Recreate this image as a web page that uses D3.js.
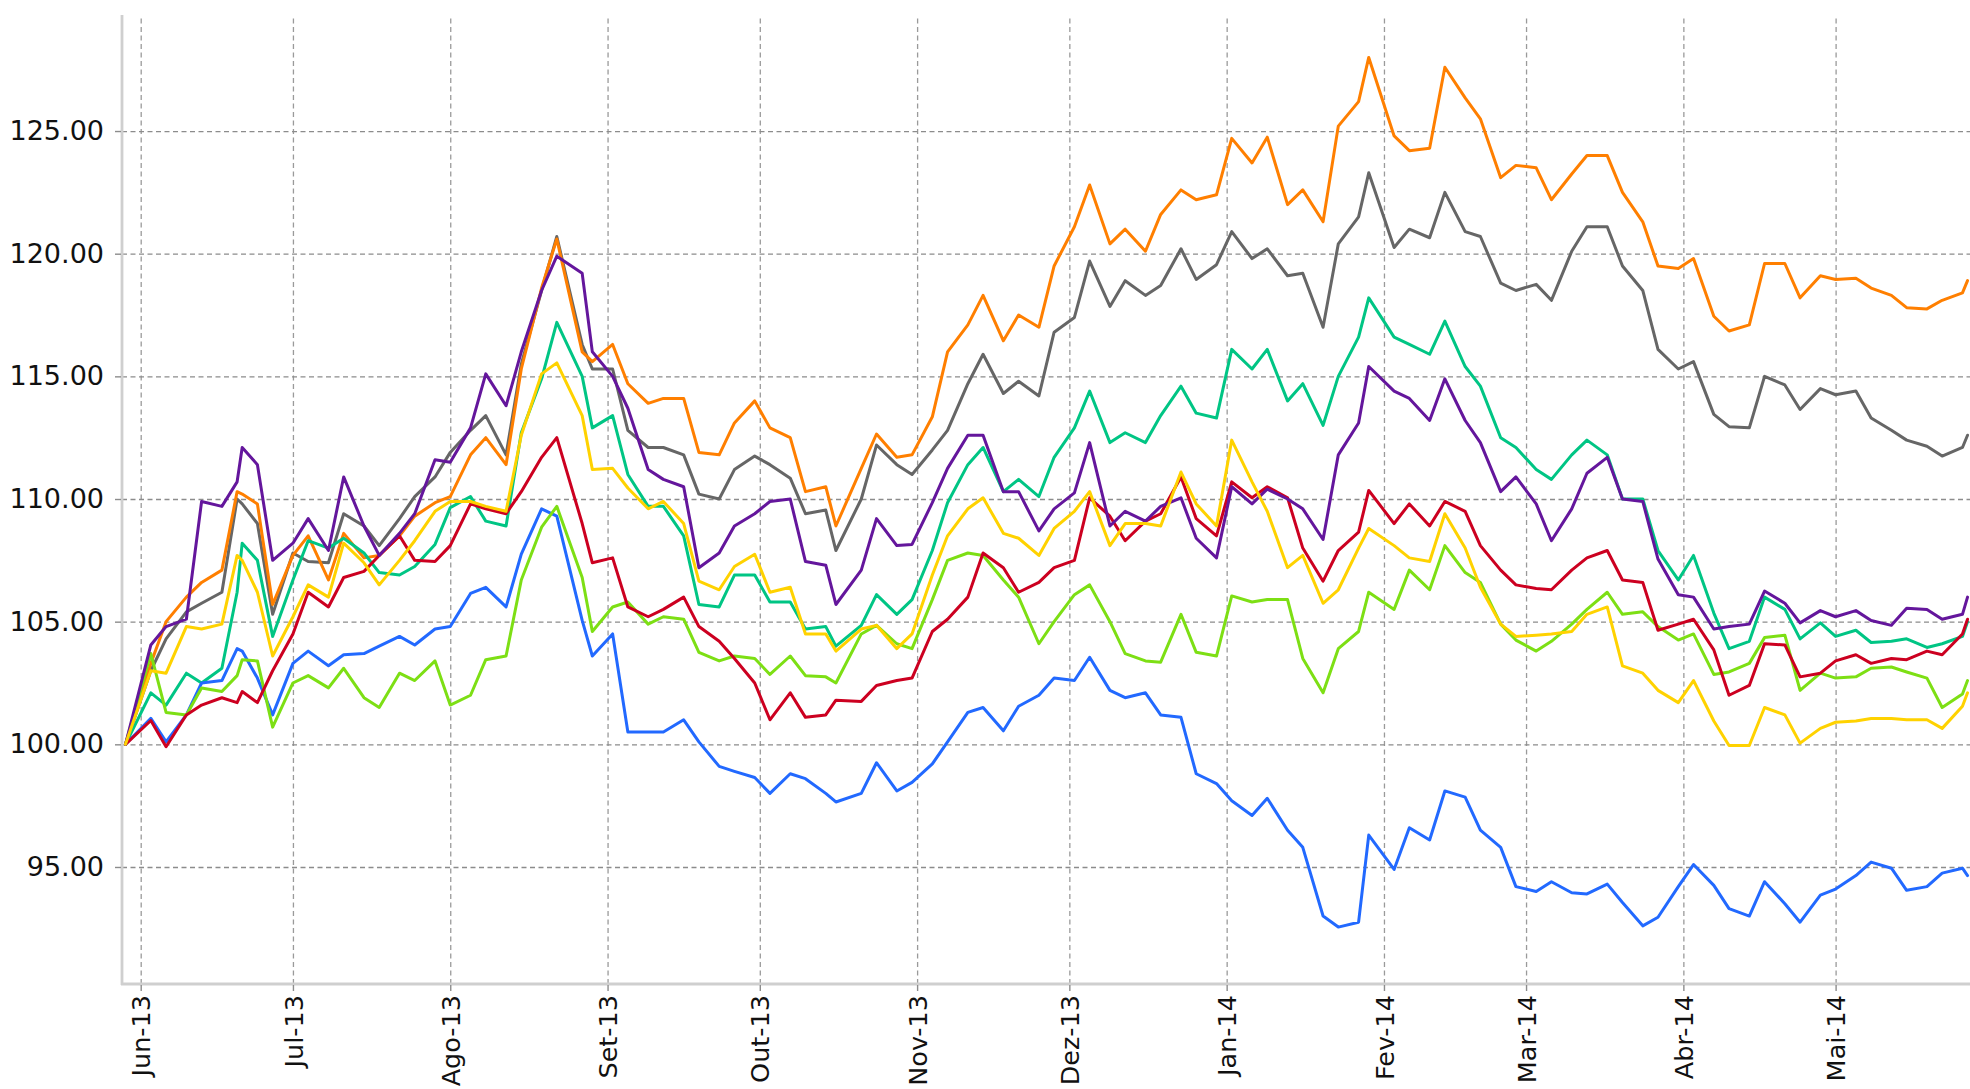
<!DOCTYPE html>
<html><head><meta charset="utf-8">
<script src="https://cdn.jsdelivr.net/npm/d3@7"></script>
<style>
body{margin:0;background:#fff}
svg{display:block;background:#fff}
text{font-family:"DejaVu Sans",sans-serif;fill:#111}
</style>
</head><body>
<svg id="chart" width="1970" height="1089"></svg>
<script>
const dates = [
"2013-05-29","2013-06-03","2013-06-06","2013-06-10","2013-06-13","2013-06-17","2013-06-20","2013-06-21","2013-06-24","2013-06-27",
"2013-07-01","2013-07-04","2013-07-08","2013-07-11","2013-07-15","2013-07-18","2013-07-22","2013-07-25","2013-07-29","2013-08-01",
"2013-08-05","2013-08-08","2013-08-12","2013-08-15","2013-08-19","2013-08-22","2013-08-27","2013-08-29","2013-09-02","2013-09-05",
"2013-09-09","2013-09-12","2013-09-16","2013-09-19","2013-09-23","2013-09-26","2013-09-30","2013-10-03","2013-10-07","2013-10-10",
"2013-10-14","2013-10-16","2013-10-21","2013-10-24","2013-10-28","2013-10-31","2013-11-04","2013-11-07","2013-11-11","2013-11-14",
"2013-11-18","2013-11-21","2013-11-25","2013-11-28","2013-12-02","2013-12-05","2013-12-09","2013-12-12","2013-12-16","2013-12-19",
"2013-12-23","2013-12-26","2013-12-30","2014-01-02","2014-01-06","2014-01-09","2014-01-13","2014-01-16","2014-01-20","2014-01-23",
"2014-01-27","2014-01-29","2014-02-03","2014-02-06","2014-02-10","2014-02-13","2014-02-17","2014-02-20","2014-02-24","2014-02-27",
"2014-03-03","2014-03-06","2014-03-10","2014-03-13","2014-03-17","2014-03-20","2014-03-24","2014-03-27","2014-03-31","2014-04-03",
"2014-04-07","2014-04-10","2014-04-14","2014-04-17","2014-04-21","2014-04-24","2014-04-28","2014-05-01","2014-05-05","2014-05-08",
"2014-05-12","2014-05-15","2014-05-19","2014-05-22","2014-05-26","2014-05-27"];

const orangeValues = [
100,103.3,105.0,106.0,106.6,107.1,110.3,110.2,109.8,105.7,
107.7,108.5,106.7,108.6,107.6,107.7,108.5,109.3,109.85,110.1,
111.8,112.5,111.4,115.3,118.6,120.6,116.0,115.6,116.3,114.7,
113.9,114.1,114.1,111.9,111.8,113.1,114.0,112.9,112.5,110.3,
110.5,108.9,111.25,112.65,111.7,111.8,113.35,116.0,117.1,118.3,
116.45,117.5,117.0,119.5,121.1,122.8,120.4,121.0,120.1,121.6,
122.6,122.2,122.4,124.7,123.7,124.75,122.0,122.6,121.3,125.2,
126.2,128.0,124.8,124.2,124.3,127.6,126.35,125.5,123.1,123.6,
123.5,122.2,123.25,124.0,124.0,122.5,121.3,119.5,119.4,119.8,
117.45,116.85,117.1,119.6,119.6,118.2,119.1,118.95,119.0,118.6,
118.3,117.8,117.75,118.1,118.4,118.9];

const grayValues = [
100,103.0,104.3,105.4,105.75,106.2,110.0,109.8,109.0,105.3,
107.8,107.45,107.4,109.4,108.9,108.1,109.2,110.1,110.9,111.9,
112.8,113.4,111.8,115.5,118.5,120.7,116.3,115.3,115.3,112.8,
112.1,112.1,111.8,110.2,110.0,111.2,111.75,111.4,110.85,109.4,
109.55,107.9,110.0,112.2,111.4,111.0,112.0,112.8,114.7,115.9,
114.3,114.8,114.2,116.8,117.4,119.7,117.85,118.9,118.3,118.7,
120.2,118.95,119.55,120.9,119.8,120.2,119.1,119.2,117.0,120.4,
121.5,123.3,120.25,121.0,120.65,122.5,120.9,120.7,118.8,118.5,
118.75,118.1,120.1,121.1,121.1,119.5,118.5,116.1,115.3,115.6,
113.45,112.95,112.9,115.0,114.65,113.65,114.5,114.25,114.4,113.3,
112.8,112.4,112.15,111.75,112.1,112.6];

const greenValues = [
100,102.1,101.6,102.9,102.5,103.1,106.2,108.2,107.5,104.4,
106.7,108.3,108.0,108.4,107.8,107.0,106.9,107.25,108.15,109.65,
110.1,109.1,108.9,112.7,114.9,117.2,115.0,112.9,113.4,111.0,
109.7,109.7,108.5,105.7,105.6,106.9,106.9,105.8,105.8,104.7,
104.8,104.0,104.85,106.1,105.3,105.9,107.9,109.85,111.4,112.1,
110.3,110.8,110.1,111.7,112.9,114.4,112.3,112.7,112.3,113.4,
114.6,113.5,113.3,116.1,115.3,116.1,114.0,114.7,113.0,115.0,
116.6,118.2,116.6,116.3,115.9,117.25,115.4,114.6,112.5,112.1,
111.2,110.8,111.8,112.4,111.8,110.0,110.0,107.9,106.7,107.7,
105.35,103.9,104.2,106.0,105.5,104.3,104.95,104.4,104.65,104.15,
104.2,104.3,103.95,104.1,104.4,105.0];

const purpleValues = [
100,104.05,104.8,105.1,109.9,109.7,110.7,112.1,111.4,107.5,
108.2,109.2,107.9,110.9,108.9,107.7,108.6,109.4,111.6,111.5,
112.9,115.1,113.8,116.0,118.5,119.9,119.2,116.0,115.0,113.7,
111.2,110.8,110.5,107.2,107.8,108.9,109.4,109.9,110.0,107.45,
107.3,105.7,107.1,109.2,108.1,108.15,109.85,111.25,112.6,112.6,
110.3,110.3,108.7,109.6,110.25,112.3,108.9,109.5,109.1,109.7,
110.05,108.4,107.6,110.5,109.8,110.4,110.0,109.6,108.35,111.8,
113.1,115.4,114.4,114.1,113.2,114.9,113.2,112.3,110.3,110.9,
109.8,108.3,109.6,111.05,111.7,110.0,109.9,107.55,106.1,106.0,
104.7,104.8,104.9,106.25,105.75,104.95,105.45,105.2,105.45,105.05,
104.85,105.55,105.5,105.1,105.3,106.0];

const redValues = [
100,100.97,99.9,101.2,101.6,101.9,101.7,102.15,101.7,103.0,
104.5,106.2,105.6,106.8,107.05,107.7,108.5,107.5,107.45,108.1,
109.8,109.6,109.4,110.3,111.7,112.5,109.0,107.4,107.6,105.6,
105.2,105.5,106.0,104.8,104.2,103.5,102.5,101.0,102.1,101.1,
101.2,101.8,101.75,102.4,102.6,102.7,104.6,105.1,106.0,107.8,
107.2,106.2,106.6,107.2,107.5,110.05,109.3,108.3,109.1,109.4,
110.9,109.2,108.5,110.7,110.05,110.5,110.05,108.0,106.65,107.9,
108.65,110.35,109.0,109.8,108.9,109.9,109.5,108.1,107.1,106.5,
106.35,106.3,107.1,107.6,107.9,106.7,106.6,104.65,104.9,105.1,
103.85,102.0,102.4,104.1,104.05,102.75,102.9,103.4,103.65,103.3,
103.5,103.45,103.8,103.65,104.5,105.1];

const yellowValues = [
100,103.0,102.9,104.8,104.7,104.9,107.7,107.5,106.2,103.6,
105.2,106.5,106.0,108.2,107.4,106.5,107.5,108.3,109.5,109.9,
109.9,109.7,109.5,112.6,115.1,115.55,113.4,111.2,111.25,110.45,
109.6,109.9,109.0,106.65,106.3,107.25,107.75,106.2,106.4,104.5,
104.5,103.8,104.7,104.85,103.9,104.5,106.9,108.5,109.6,110.05,
108.6,108.4,107.7,108.8,109.5,110.3,108.1,109.0,109.0,108.9,
111.1,109.8,108.9,112.4,110.7,109.5,107.2,107.7,105.75,106.3,
108.0,108.8,108.1,107.6,107.45,109.4,108.0,106.4,104.9,104.4,
104.45,104.5,104.6,105.3,105.6,103.2,102.9,102.2,101.7,102.6,
100.95,99.95,99.95,101.5,101.2,100.05,100.65,100.9,100.95,101.05,
101.05,101.0,101.0,100.65,101.55,102.1];

const limeValues = [
100,103.7,101.3,101.2,102.3,102.15,102.8,103.45,103.4,100.7,
102.5,102.8,102.3,103.1,101.9,101.5,102.9,102.6,103.4,101.6,
102.0,103.45,103.6,106.7,108.85,109.7,106.8,104.6,105.6,105.8,
104.9,105.2,105.1,103.75,103.4,103.6,103.5,102.85,103.6,102.8,
102.75,102.5,104.5,104.85,104.1,103.9,105.9,107.5,107.8,107.7,
106.7,106.0,104.1,105.0,106.1,106.5,105.0,103.7,103.4,103.35,
105.3,103.75,103.6,106.05,105.8,105.9,105.9,103.5,102.1,103.9,
104.6,106.2,105.5,107.1,106.3,108.1,107.0,106.6,104.9,104.25,
103.8,104.2,104.9,105.5,106.2,105.3,105.4,104.8,104.25,104.5,
102.85,102.95,103.3,104.35,104.45,102.2,102.9,102.7,102.75,103.1,
103.15,102.95,102.7,101.5,102.05,102.6];

const blueValues = [
100,101.06,100.1,101.2,102.5,102.6,103.9,103.8,102.7,101.2,
103.3,103.8,103.2,103.65,103.7,104.0,104.4,104.05,104.7,104.8,
106.15,106.4,105.6,107.75,109.6,109.3,105.05,103.6,104.5,100.5,
100.5,100.5,101.0,100.1,99.1,98.9,98.65,98.0,98.8,98.6,
98.0,97.65,98.0,99.25,98.1,98.45,99.2,100.1,101.3,101.5,
100.55,101.55,102.0,102.7,102.6,103.55,102.2,101.9,102.1,101.2,
101.1,98.8,98.4,97.7,97.1,97.8,96.5,95.8,93.0,92.55,
92.75,96.3,94.9,96.6,96.1,98.1,97.85,96.5,95.8,94.2,
94.0,94.4,93.95,93.9,94.3,93.55,92.6,92.95,94.2,95.1,
94.25,93.3,93.0,94.4,93.5,92.75,93.85,94.1,94.65,95.2,
94.95,94.05,94.2,94.75,94.95,94.65];

const monthLabels = ["Jun-13","Jul-13","Ago-13","Set-13","Out-13","Nov-13","Dez-13","Jan-14","Fev-14","Mar-14","Abr-14","Mai-14"];
const yTickValues = [95,100,105,110,115,120,125];

const seriesList = [
  {color:"#666666", values:grayValues},
  {color:"#ff7f00", values:orangeValues},
  {color:"#00c584", values:greenValues},
  {color:"#2269ff", values:blueValues},
  {color:"#7ddf14", values:limeValues},
  {color:"#cc0020", values:redValues},
  {color:"#64169c", values:purpleValues},
  {color:"#ffd200", values:yellowValues}
];

const parse = d3.utcParse("%Y-%m-%d");
const parsedDates = dates.map(parse);
const svg = d3.select("#chart");
const L = 122, T = 15, B = 984, R = 1970;

const x = d3.scaleUtc()
  .domain([parse("2013-06-01"), parse("2014-05-01")])
  .range([140.7, 1835.6]);
const y = d3.scaleLinear().domain([90.23, 129.73]).range([B, T]);

const monthTicks = d3.utcMonth.range(parse("2013-06-01"), parse("2014-05-02"));

// grid
const gx = svg.append("g").attr("transform", `translate(0,${B})`)
  .call(d3.axisBottom(x).tickValues(monthTicks).tickSize(-(B - T)).tickFormat(""));
gx.select(".domain").remove();
gx.selectAll("line").attr("stroke", "#9a9a9a").attr("stroke-width", 1.3).attr("stroke-dasharray", "5,3.5");

const gy = svg.append("g").attr("transform", `translate(${L},0)`)
  .call(d3.axisLeft(y).tickValues(yTickValues).tickSize(-(R - L)).tickFormat(""));
gy.select(".domain").remove();
gy.selectAll("line").attr("stroke", "#8c8c8c").attr("stroke-width", 1.3).attr("stroke-dasharray", "5,3.5");

// lines
const line = d3.line()
  .x((d, i) => x(parsedDates[i]))
  .y(d => y(d))
  .curve(d3.curveLinear);

svg.append("g").selectAll("path").data(seriesList).join("path")
  .attr("d", s => line(s.values))
  .attr("fill", "none")
  .attr("stroke", s => s.color)
  .attr("stroke-width", 3)
  .attr("stroke-linejoin", "round")
  .attr("stroke-linecap", "round");

// spines
svg.append("line").attr("x1", L).attr("x2", L).attr("y1", T).attr("y2", B + 1)
  .attr("stroke", "#cfcfcf").attr("stroke-width", 2.8);
svg.append("line").attr("x1", L - 1).attr("x2", R).attr("y1", B).attr("y2", B)
  .attr("stroke", "#cfcfcf").attr("stroke-width", 2.8);

// axes with labels
const ax = svg.append("g").attr("transform", `translate(0,${B + 1})`)
  .call(d3.axisBottom(x).tickValues(monthTicks).tickSize(6).tickFormat((d, i) => monthLabels[i]));
ax.select(".domain").remove();
ax.selectAll("line").attr("stroke", "#8c8c8c").attr("stroke-width", 1.4);
ax.selectAll("text")
  .attr("transform", "rotate(-90)")
  .attr("x", -10).attr("y", 0).attr("dy", "0.36em")
  .attr("text-anchor", "end")
  .style("font-size", "25.5px").style("font-family", "'DejaVu Sans',sans-serif").attr("fill", "#111");

const ay = svg.append("g").attr("transform", `translate(${L - 1},0)`)
  .call(d3.axisLeft(y).tickValues(yTickValues).tickSize(6).tickPadding(11).tickFormat(d3.format(".2f")));
ay.select(".domain").remove();
ay.selectAll("line").attr("stroke", "#8c8c8c").attr("stroke-width", 1.4);
ay.selectAll("text").style("font-size", "27px").style("font-family", "'DejaVu Sans',sans-serif").attr("fill", "#111");
</script>
</body></html>
